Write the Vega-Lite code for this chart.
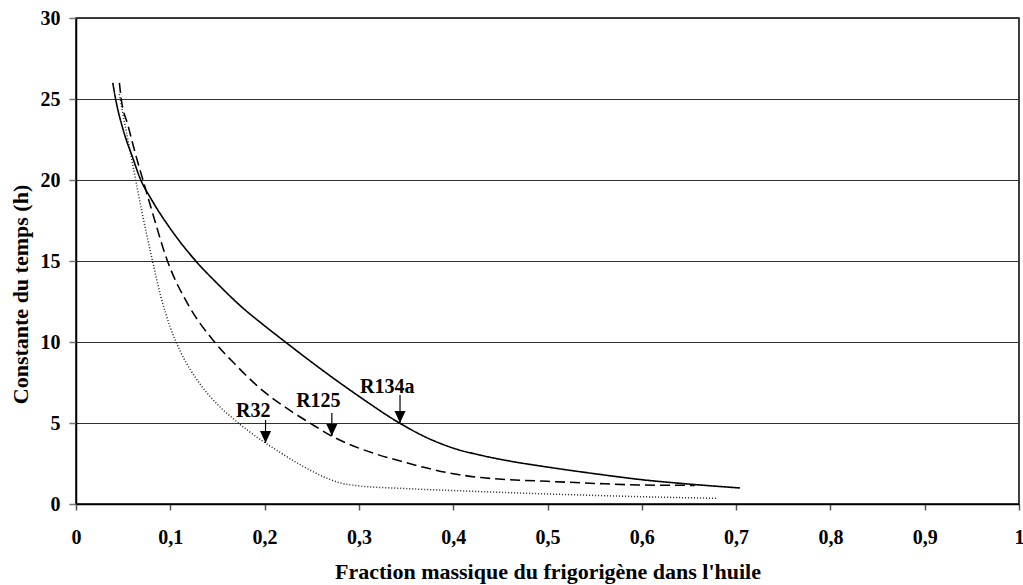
{
  "$schema": "https://vega.github.io/schema/vega-lite/v6.json",
  "width": 943,
  "height": 486,
  "autosize": "none",
  "padding": {"left": 76, "top": 18, "right": 4, "bottom": 81},
  "background": "white",
  "config": {
    "view": {"stroke": "black", "strokeWidth": 1.5},
    "font": "Liberation Serif"
  },
  "datasets": {
    "curves": [
      {"s": "R134a", "x": 0.039, "y": 26.0},
      {"s": "R134a", "x": 0.042, "y": 25.0},
      {"s": "R134a", "x": 0.05, "y": 23.1},
      {"s": "R134a", "x": 0.06, "y": 21.4},
      {"s": "R134a", "x": 0.068, "y": 20.1},
      {"s": "R134a", "x": 0.08, "y": 18.8},
      {"s": "R134a", "x": 0.1, "y": 17.0},
      {"s": "R134a", "x": 0.127, "y": 15.0},
      {"s": "R134a", "x": 0.15, "y": 13.6},
      {"s": "R134a", "x": 0.175, "y": 12.2},
      {"s": "R134a", "x": 0.2, "y": 11.0},
      {"s": "R134a", "x": 0.222, "y": 10.0},
      {"s": "R134a", "x": 0.25, "y": 8.75},
      {"s": "R134a", "x": 0.3, "y": 6.65},
      {"s": "R134a", "x": 0.343, "y": 5.0},
      {"s": "R134a", "x": 0.37, "y": 4.15},
      {"s": "R134a", "x": 0.4, "y": 3.45},
      {"s": "R134a", "x": 0.43, "y": 3.0},
      {"s": "R134a", "x": 0.46, "y": 2.65},
      {"s": "R134a", "x": 0.5, "y": 2.28},
      {"s": "R134a", "x": 0.55, "y": 1.87},
      {"s": "R134a", "x": 0.6, "y": 1.5},
      {"s": "R134a", "x": 0.65, "y": 1.23},
      {"s": "R134a", "x": 0.704, "y": 0.99},
      {"s": "R125", "x": 0.046, "y": 26.0},
      {"s": "R125", "x": 0.048, "y": 25.0},
      {"s": "R125", "x": 0.055, "y": 23.4},
      {"s": "R125", "x": 0.065, "y": 21.2},
      {"s": "R125", "x": 0.071, "y": 20.0},
      {"s": "R125", "x": 0.08, "y": 18.2},
      {"s": "R125", "x": 0.097, "y": 15.0},
      {"s": "R125", "x": 0.12, "y": 12.2},
      {"s": "R125", "x": 0.147, "y": 10.0},
      {"s": "R125", "x": 0.17, "y": 8.55},
      {"s": "R125", "x": 0.2, "y": 6.9},
      {"s": "R125", "x": 0.225, "y": 5.85},
      {"s": "R125", "x": 0.248, "y": 5.0},
      {"s": "R125", "x": 0.271, "y": 4.2},
      {"s": "R125", "x": 0.3, "y": 3.45},
      {"s": "R125", "x": 0.32, "y": 3.05},
      {"s": "R125", "x": 0.344, "y": 2.65},
      {"s": "R125", "x": 0.37, "y": 2.25},
      {"s": "R125", "x": 0.4, "y": 1.87},
      {"s": "R125", "x": 0.43, "y": 1.63},
      {"s": "R125", "x": 0.46, "y": 1.5},
      {"s": "R125", "x": 0.5, "y": 1.4},
      {"s": "R125", "x": 0.55, "y": 1.27},
      {"s": "R125", "x": 0.6, "y": 1.17},
      {"s": "R125", "x": 0.656, "y": 1.15},
      {"s": "R32", "x": 0.046, "y": 25.3},
      {"s": "R32", "x": 0.05, "y": 24.0},
      {"s": "R32", "x": 0.055, "y": 22.5},
      {"s": "R32", "x": 0.06, "y": 21.0},
      {"s": "R32", "x": 0.07, "y": 18.0},
      {"s": "R32", "x": 0.08, "y": 15.3},
      {"s": "R32", "x": 0.09, "y": 12.8},
      {"s": "R32", "x": 0.1, "y": 10.9},
      {"s": "R32", "x": 0.11, "y": 9.5},
      {"s": "R32", "x": 0.131, "y": 7.45},
      {"s": "R32", "x": 0.15, "y": 6.15},
      {"s": "R32", "x": 0.167, "y": 5.25},
      {"s": "R32", "x": 0.2, "y": 3.8},
      {"s": "R32", "x": 0.216, "y": 3.2},
      {"s": "R32", "x": 0.24, "y": 2.35},
      {"s": "R32", "x": 0.26, "y": 1.75},
      {"s": "R32", "x": 0.28, "y": 1.3},
      {"s": "R32", "x": 0.3, "y": 1.12},
      {"s": "R32", "x": 0.344, "y": 0.97},
      {"s": "R32", "x": 0.4, "y": 0.83},
      {"s": "R32", "x": 0.45, "y": 0.72},
      {"s": "R32", "x": 0.5, "y": 0.62},
      {"s": "R32", "x": 0.55, "y": 0.53},
      {"s": "R32", "x": 0.6, "y": 0.45},
      {"s": "R32", "x": 0.68, "y": 0.35}
    ],
    "notes": [
      {"label": "R134a", "lx": 0.33, "ly": 7.2, "ax": 0.3436, "ay1": 6.73, "ay2": 5.0},
      {"label": "R125", "lx": 0.257, "ly": 6.35, "ax": 0.2713, "ay1": 5.62, "ay2": 4.2},
      {"label": "R32", "lx": 0.188, "ly": 5.75, "ax": 0.201, "ay1": 5.19, "ay2": 3.77}
    ]
  },
  "layer": [
    {
      "data": {"name": "curves"},
      "mark": {"type": "line", "interpolate": "monotone"},
      "encoding": {
        "x": {
          "field": "x", "type": "quantitative",
          "scale": {"domain": [0, 1], "nice": false, "zero": false},
          "axis": {
            "values": [0, 0.1, 0.2, 0.3, 0.4, 0.5, 0.6, 0.7, 0.8, 0.9, 1],
            "labelExpr": "replace(format(datum.value, '~g'), '.', ',')",
            "grid": false,
            "domainColor": "black", "domainWidth": 1.5,
            "tickColor": "#555", "tickSize": 6, "tickWidth": 1.5,
            "labelFont": "Liberation Serif", "labelFontSize": 20, "labelFontWeight": "bold",
            "labelColor": "black", "labelBaseline": "alphabetic", "labelPadding": 33,
            "labelFlush": false, "labelOverlap": false,
            "title": "Fraction massique du frigorigène dans l'huile",
            "titleFont": "Liberation Serif", "titleFontSize": 22, "titleFontWeight": "bold",
            "titleColor": "black", "titleBaseline": "alphabetic", "titleY": 74, "titleX": 471.5
          }
        },
        "y": {
          "field": "y", "type": "quantitative",
          "scale": {"domain": [0, 30], "nice": false, "zero": false},
          "axis": {
            "values": [0, 5, 10, 15, 20, 25, 30],
            "grid": true, "gridColor": "#333", "gridWidth": 1, "gridOpacity": 1,
            "domainColor": "black", "domainWidth": 1.5,
            "tickColor": "#777", "tickSize": 7, "tickWidth": 1.5,
            "labelFont": "Liberation Serif", "labelFontSize": 20, "labelFontWeight": "bold",
            "labelColor": "black", "labelPadding": 9, "labelFlush": false, "labelOverlap": false,
            "title": "Constante du temps (h)",
            "titleFont": "Liberation Serif", "titleFontSize": 22, "titleFontWeight": "bold",
            "titleColor": "black", "titleAngle": -90, "titleBaseline": "middle",
            "titleAlign": "center", "titleX": -56, "titleY": 276
          }
        },
        "detail": {"field": "s"},
        "strokeDash": {
          "field": "s", "type": "nominal",
          "scale": {"domain": ["R134a", "R125", "R32"], "range": [[1, 0], [10, 5], [1, 2]]},
          "legend": null
        },
        "strokeWidth": {
          "field": "s", "type": "nominal",
          "scale": {"domain": ["R134a", "R125", "R32"], "range": [1.6, 1.5, 1.1]},
          "legend": null
        },
        "color": {
          "field": "s", "type": "nominal",
          "scale": {"domain": ["R134a", "R125", "R32"], "range": ["black", "black", "#222"]},
          "legend": null
        }
      }
    },
    {
      "data": {"name": "notes"},
      "mark": {"type": "text", "font": "Liberation Serif", "fontSize": 20, "fontWeight": "bold", "color": "black", "baseline": "middle", "align": "center"},
      "encoding": {
        "x": {"field": "lx", "type": "quantitative"},
        "y": {"field": "ly", "type": "quantitative"},
        "text": {"field": "label"}
      }
    },
    {
      "data": {"name": "notes"},
      "mark": {"type": "rule", "color": "black", "strokeWidth": 1.2},
      "encoding": {
        "x": {"field": "ax", "type": "quantitative"},
        "y": {"field": "ay1", "type": "quantitative"},
        "y2": {"field": "ay2"}
      }
    },
    {
      "data": {"name": "notes"},
      "mark": {"type": "point", "shape": "M-0.46,-1L0.46,-1L0,0Z", "filled": true, "color": "black", "opacity": 1, "size": 576, "strokeWidth": 0},
      "encoding": {
        "x": {"field": "ax", "type": "quantitative"},
        "y": {"field": "ay2", "type": "quantitative"}
      }
    }
  ]
}
